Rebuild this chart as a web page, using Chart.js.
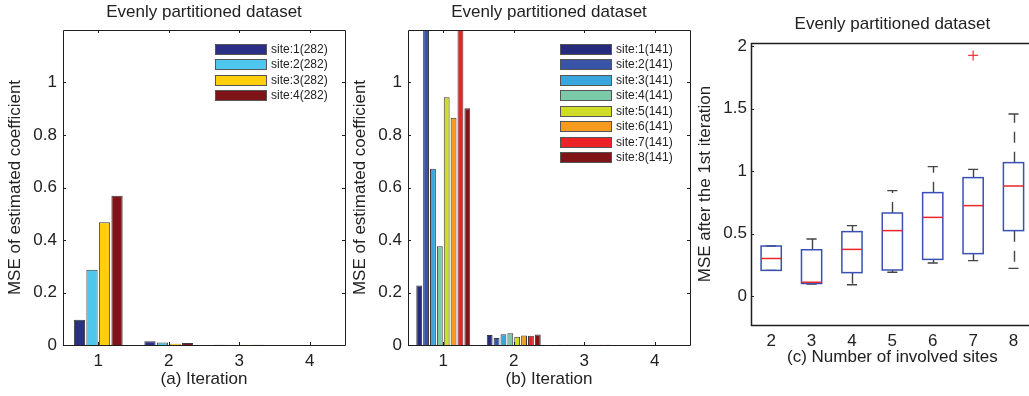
<!DOCTYPE html>
<html>
<head>
<meta charset="utf-8">
<script src="https://cdn.jsdelivr.net/npm/chart.js@4.4.1/dist/chart.umd.min.js"></script>
<style>
  html, body { margin: 0; padding: 0; background: #fff; width: 1029px; height: 396px; overflow: hidden; position: relative; }
  canvas { position: absolute; top: 0; }
</style>
</head>
<body>
<canvas id="chartA" width="350" height="396" style="left:0px"></canvas>
<canvas id="chartB" width="350" height="396" style="left:345px"></canvas>
<canvas id="chartC" width="350" height="396" style="left:690px"></canvas>
<script>
// --- DATA ---
const iterations = ['1', '2', '3', '4'];

const sitesA = ['site:1(282)', 'site:2(282)', 'site:3(282)', 'site:4(282)'];
const mseA = [
  [0.096, 0.014, 0.0012, 0.0003],
  [0.287, 0.010, 0.0012, 0.0003],
  [0.468, 0.005, 0.0010, 0.0003],
  [0.569, 0.008, 0.0010, 0.0003]
];

const sitesB = ['site:1(141)', 'site:2(141)', 'site:3(141)', 'site:4(141)',
                'site:5(141)', 'site:6(141)', 'site:7(141)', 'site:8(141)'];
const mseB = [
  [0.227, 0.038, 0.0012, 0.0003],
  [1.21, 0.027, 0.0012, 0.0003],
  [0.671, 0.041, 0.0012, 0.0003],
  [0.376, 0.045, 0.0012, 0.0003],
  [0.944, 0.031, 0.0012, 0.0003],
  [0.866, 0.036, 0.0012, 0.0003],
  [1.45, 0.035, 0.0012, 0.0003],
  [0.902, 0.040, 0.0012, 0.0003]
];

// boxplot (c): MSE after the 1st iteration
const nSites = [2, 3, 4, 5, 6, 7, 8];
const boxLow = [0.205, 0.096, 0.09, 0.19, 0.264, 0.283, 0.221];
const boxQ1 = [0.205, 0.10, 0.187, 0.208, 0.293, 0.339, 0.523];
const boxMedian = [0.30, 0.11, 0.373, 0.523, 0.629, 0.723, 0.88];
const boxQ3 = [0.40, 0.37, 0.515, 0.664, 0.827, 0.947, 1.067];
const boxHigh = [0.40, 0.456, 0.563, 0.843, 1.035, 1.013, 1.456];
const outlierX = [7];
const outlierY = [1.925];

const yTicksBar = [0, 0.2, 0.4, 0.6, 0.8, 1];
const yTicksBox = [0, 0.5, 1, 1.5, 2];

const colorsA = ['#2b2f86', '#4fc7ec', '#fecf0a', '#7f1418'];
const colorsB = ['#262b7d', '#3954a6', '#3aa6de', '#7ac9a9', '#cfdd28', '#f59c1e', '#ed2227', '#7e1416'];

const FONT = '"Liberation Sans", Arial, sans-serif';
const TXT = '#222';

// --- PLUGINS ---
// title centered on the plot area
const panelTitle = {
  id: 'panelTitle',
  afterDraw(chart, args, opts) {
    const { ctx, chartArea: a } = chart;
    ctx.save();
    ctx.font = '17px ' + FONT;
    ctx.fillStyle = TXT;
    ctx.textAlign = 'center';
    ctx.textBaseline = 'middle';
    ctx.fillText(opts.text, (a.left + a.right) / 2, opts.y);
    ctx.restore();
  }
};

// matlab style box + inward ticks
const frame = {
  id: 'frame',
  afterDatasetsDraw(chart, args, opts) {
    const { ctx, chartArea: a, scales } = chart;
    const len = 3;
    ctx.save();
    ctx.strokeStyle = '#1e1e1e';
    ctx.lineWidth = 1;
    ctx.beginPath();
    scales.y.ticks.forEach(t => {
      const py = Math.round(scales.y.getPixelForValue(t.value)) + 0.5;
      ctx.moveTo(a.left, py); ctx.lineTo(a.left + len, py);
      if (opts.right) { ctx.moveTo(a.right, py); ctx.lineTo(a.right - len, py); }
    });
    if (opts.xTicks) {
      scales.x.ticks.forEach((t, i) => {
        const px = Math.round(scales.x.getPixelForTick(i)) + 0.5;
        ctx.moveTo(px, a.bottom); ctx.lineTo(px, a.bottom - len);
        ctx.moveTo(px, a.top); ctx.lineTo(px, a.top + len);
      });
    }
    ctx.stroke();

    ctx.lineWidth = opts.width || 1;
    const off = (ctx.lineWidth % 2) ? 0.5 : 0;
    const l = Math.round(a.left) + off, r = Math.round(a.right) + off;
    const t = Math.round(a.top) + off, b = Math.round(a.bottom) + off;
    ctx.beginPath();
    ctx.moveTo(r, t); ctx.lineTo(l, t); ctx.lineTo(l, b); ctx.lineTo(r, b);
    if (opts.right) ctx.lineTo(r, t);
    ctx.stroke();
    ctx.restore();
  }
};

// legend inside the plot, top right
const insideLegend = {
  id: 'insideLegend',
  afterDraw(chart) {
    const { ctx, chartArea: a } = chart;
    const x0 = a.right - 130;
    ctx.save();
    ctx.font = '12px ' + FONT;
    ctx.textBaseline = 'middle';
    ctx.textAlign = 'left';
    chart.data.datasets.forEach((ds, i) => {
      const cy = a.top + 19 + i * 15.5;
      ctx.fillStyle = ds.backgroundColor;
      ctx.fillRect(x0, Math.round(cy - 5.5), 52, 11);
      ctx.strokeStyle = '#555';
      ctx.lineWidth = 1;
      ctx.strokeRect(x0 + 0.5, Math.round(cy - 5.5) + 0.5, 51, 10);
      ctx.fillStyle = TXT;
      ctx.fillText(ds.label, x0 + 56, cy + 0.5);
    });
    ctx.restore();
  }
};

// boxes, whiskers, medians drawn through the chart scales
const boxes = {
  id: 'boxes',
  beforeDatasetsDraw(chart) {
    const { ctx, scales: { x, y } } = chart;
    ctx.save();
    nSites.forEach((n, i) => {
      const xl = x.getPixelForValue(n - 0.25), xr = x.getPixelForValue(n + 0.25);
      const cl = x.getPixelForValue(n - 0.125), cr = x.getPixelForValue(n + 0.125);
      const xc = Math.round(x.getPixelForValue(n)) + 0.5;
      const yLo = y.getPixelForValue(boxLow[i]), yQ1 = y.getPixelForValue(boxQ1[i]);
      const yMd = y.getPixelForValue(boxMedian[i]), yQ3 = y.getPixelForValue(boxQ3[i]);
      const yHi = y.getPixelForValue(boxHigh[i]);

      // whiskers
      ctx.strokeStyle = '#444';
      ctx.lineWidth = 1.4;
      ctx.setLineDash([11, 9]);
      ctx.beginPath();
      ctx.moveTo(xc, yQ3); ctx.lineTo(xc, yHi);
      ctx.moveTo(xc, yQ1); ctx.lineTo(xc, yLo);
      ctx.stroke();
      ctx.setLineDash([]);
      ctx.beginPath();
      ctx.moveTo(cl, yHi); ctx.lineTo(cr, yHi);
      ctx.moveTo(cl, yLo); ctx.lineTo(cr, yLo);
      ctx.stroke();

      // box
      ctx.strokeStyle = '#3a50b5';
      ctx.lineWidth = 1.5;
      ctx.strokeRect(xl, yQ3, xr - xl, yQ1 - yQ3);

      // median
      ctx.strokeStyle = '#e8262b';
      ctx.beginPath();
      ctx.moveTo(xl, yMd); ctx.lineTo(xr, yMd);
      ctx.stroke();
    });
    ctx.restore();
  }
};

// --- BAR PANELS ---
function barChart(id, labels, values, colors, catPct, barPct, xTitle) {
  const datasets = labels.map((lab, i) => ({
    label: lab,
    data: values[i],
    backgroundColor: colors[i],
    borderColor: '#3a3a3a',
    borderWidth: 1,
    categoryPercentage: catPct,
    barPercentage: barPct,
    clip: 0
  }));

  return new Chart(document.getElementById(id), {
    type: 'bar',
    data: { labels: iterations, datasets: datasets },
    options: {
      responsive: false,
      animation: false,
      layout: { padding: { left: 0, right: 5, top: 30, bottom: 0 } },
      plugins: {
        legend: { display: false },
        tooltip: { enabled: false },
        panelTitle: { text: 'Evenly partitioned dataset', y: 12 },
        frame: { right: true, xTicks: true, width: 1 }
      },
      scales: {
        x: {
          grid: { display: false, drawTicks: false },
          border: { display: false },
          ticks: { font: { family: FONT, size: 17 }, color: TXT, padding: 6, maxRotation: 0 },
          title: { display: true, text: xTitle, font: { family: FONT, size: 17 }, color: TXT, padding: { top: 0, bottom: 6 } },
          afterFit: s => { s.height = 51; }
        },
        y: {
          min: 0,
          max: 1.2,
          grid: { display: false, drawTicks: false },
          border: { display: false },
          afterBuildTicks: s => { s.ticks = yTicksBar.map(v => ({ value: v })); },
          ticks: { font: { family: FONT, size: 17 }, color: TXT, padding: 6, callback: v => String(v) },
          title: { display: true, text: 'MSE of estimated coefficient', font: { family: FONT, size: 17 }, color: TXT, padding: { top: 5, bottom: 0 } },
          afterFit: s => { s.width = 63; }
        }
      }
    },
    plugins: [panelTitle, frame, insideLegend]
  });
}

barChart('chartA', sitesA, mseA, colorsA, 0.71, 0.9, '(a) Iteration');
barChart('chartB', sitesB, mseB, colorsB, 0.78, 0.85, '(b) Iteration');

// --- BOXPLOT PANEL ---
new Chart(document.getElementById('chartC'), {
  type: 'scatter',
  data: {
    datasets: [{
      label: 'outliers',
      data: outlierX.map((v, i) => ({ x: v, y: outlierY[i] })),
      pointStyle: 'cross',
      pointRadius: 5,
      borderColor: '#ec3a44',
      borderWidth: 1.3,
      backgroundColor: '#ec3a44'
    }]
  },
  options: {
    responsive: false,
    animation: false,
    layout: { padding: { left: 0, right: 2.5, top: 43, bottom: 0 } },
    plugins: {
      legend: { display: false },
      tooltip: { enabled: false },
      panelTitle: { text: 'Evenly partitioned dataset', y: 24 },
      frame: { right: false, xTicks: false, width: 1.5 }
    },
    scales: {
      x: {
        type: 'linear',
        min: 1.5,
        max: 8.5,
        grid: { display: false, drawTicks: false },
        border: { display: false },
        afterBuildTicks: s => { s.ticks = nSites.map(v => ({ value: v })); },
        ticks: { font: { family: FONT, size: 17 }, color: TXT, padding: 6, maxRotation: 0, autoSkip: false, callback: v => String(v) },
        title: { display: true, text: '(c) Number of involved sites', font: { family: FONT, size: 17 }, color: TXT, padding: { top: 0, bottom: 28 } },
        afterFit: s => { s.height = 71; }
      },
      y: {
        min: -0.232,
        max: 2.024,
        grid: { display: false, drawTicks: false },
        border: { display: false },
        afterBuildTicks: s => { s.ticks = yTicksBox.map(v => ({ value: v })); },
        ticks: { font: { family: FONT, size: 17 }, color: TXT, padding: 4, callback: v => String(v) },
        title: { display: true, text: 'MSE after the 1st iteration', font: { family: FONT, size: 17 }, color: TXT, padding: { top: 5, bottom: 0 } },
        afterFit: s => { s.width = 61; }
      }
    }
  },
  plugins: [panelTitle, frame, boxes]
});
</script>
</body>
</html>
